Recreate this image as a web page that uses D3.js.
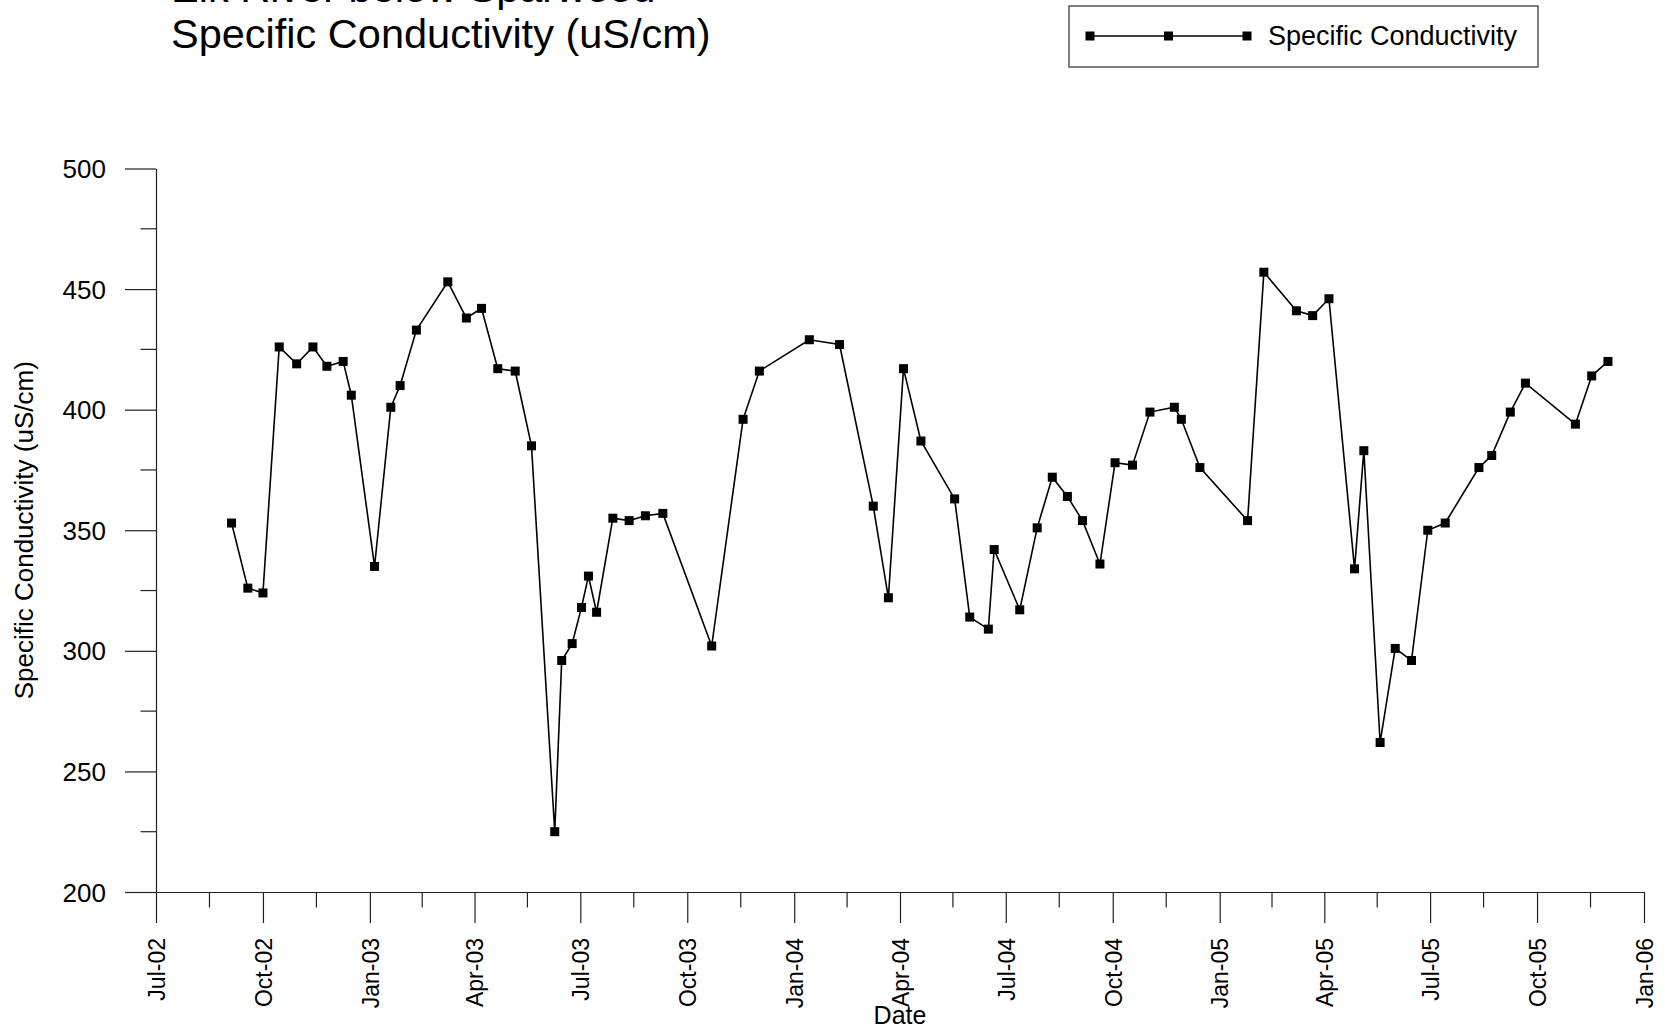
<!DOCTYPE html>
<html>
<head>
<meta charset="utf-8">
<script src="https://cdn.jsdelivr.net/npm/d3@7"></script>
<style>
  html, body { margin: 0; padding: 0; background: #fff; }
  svg { display: block; font-family: "Liberation Sans", Arial, Helvetica, sans-serif; }
</style>
</head>
<body>
<svg id="chart" width="1665" height="1030"></svg>
<script>
// ---- data ----
const sampleDates = ["2002-09-04","2002-09-18","2002-10-01","2002-10-15","2002-10-30","2002-11-13","2002-11-25","2002-12-09","2002-12-16","2003-01-05",
  "2003-01-19","2003-01-27","2003-02-10","2003-03-09","2003-03-25","2003-04-07","2003-04-21","2003-05-06","2003-05-20","2003-06-09",
  "2003-06-15","2003-06-24","2003-07-02","2003-07-08","2003-07-15","2003-07-29","2003-08-12","2003-08-26","2003-09-10","2003-10-22",
  "2003-11-18","2003-12-02","2004-01-14","2004-02-09","2004-03-09","2004-03-22","2004-04-04","2004-04-19","2004-05-18","2004-05-31",
  "2004-06-16","2004-06-21","2004-07-13","2004-07-28","2004-08-10","2004-08-23","2004-09-05","2004-09-20","2004-10-03","2004-10-18",
  "2004-11-02","2004-11-23","2004-11-29","2004-12-15","2005-01-25","2005-02-08","2005-03-08","2005-03-22","2005-04-05","2005-04-27",
  "2005-05-05","2005-05-19","2005-06-01","2005-06-15","2005-06-29","2005-07-14","2005-08-12","2005-08-23","2005-09-08","2005-09-21",
  "2005-11-03","2005-11-17","2005-12-01"];
const conductivity = [353,326,324,426,419,426,418,420,406,335,
  401,410,433,453,438,442,417,416,385,225,
  296,303,318,331,316,355,354,356,357,302,
  396,416,429,427,360,322,417,387,363,314,
  309,342,317,351,372,364,354,336,378,377,
  399,401,396,376,354,457,441,439,446,334,
  383,262,301,296,350,353,376,381,399,411,
  394,414,420];
const xTickDates = ["2002-07-01","2002-10-01","2003-01-01","2003-04-01","2003-07-01","2003-10-01","2004-01-01","2004-04-01",
  "2004-07-01","2004-10-01","2005-01-01","2005-04-01","2005-07-01","2005-10-01","2006-01-01"];
const xTickLabels = ["Jul-02","Oct-02","Jan-03","Apr-03","Jul-03","Oct-03","Jan-04","Apr-04",
  "Jul-04","Oct-04","Jan-05","Apr-05","Jul-05","Oct-05","Jan-06"];
const yTicks = [200,250,300,350,400,450,500];
const yMinorTicks = [225,275,325,375,425,475];
const titleLines = ["Elk River below Sparwood","Specific Conductivity (uS/cm)"];
const seriesName = "Specific Conductivity";
const yTitle = "Specific Conductivity (uS/cm)";
const xTitle = "Date";

// ---- layout ----
const parse = d3.utcParse("%Y-%m-%d");
const data = sampleDates.map((d, i) => ({ date: parse(d), value: conductivity[i] }));
const tickDates = xTickDates.map(parse);

const svg = d3.select("#chart");
const mLeft = 156, mRight = 1644, mTop = 168.5, mBottom = 892;

const x = d3.scaleUtc().domain([tickDates[0], tickDates[tickDates.length - 1]]).range([mLeft, mRight]);
const y = d3.scaleLinear().domain([200, 500]).range([mBottom, mTop]);

const axisColor = "#222";

// Title
const title = svg.append("g").attr("font-size", 41.5).attr("fill", "#000");
titleLines.forEach((t, i) => {
  title.append("text").attr("x", 171).attr("y", 2 + i * 45.5).text(t);
});

// Y axis
const yAxis = svg.append("g").attr("transform", `translate(${mLeft},0)`)
  .call(d3.axisLeft(y).tickValues(yTicks).tickSize(31).tickSizeOuter(0).tickPadding(19));
yAxis.select(".domain").attr("stroke", axisColor).attr("stroke-width", 1.2);
yAxis.selectAll(".tick line").attr("stroke", axisColor).attr("stroke-width", 1.2);
yAxis.selectAll(".tick text").attr("font-size", 26).attr("fill", "#000")
  .attr("font-family", "'Liberation Sans', Arial, sans-serif").attr("dy", "0.35em");
yAxis.selectAll(".minor").data(yMinorTicks).enter().append("line")
  .attr("class", "minor").attr("x1", -15.5).attr("x2", 0)
  .attr("y1", d => y(d)).attr("y2", d => y(d))
  .attr("stroke", axisColor).attr("stroke-width", 1.2);

// X axis
const xAxis = svg.append("g").attr("transform", `translate(0,${mBottom})`)
  .call(d3.axisBottom(x).tickValues(tickDates).tickSize(31).tickSizeOuter(0)
    .tickFormat((d, i) => xTickLabels[i]));
xAxis.select(".domain").attr("stroke", axisColor).attr("stroke-width", 1.2);
xAxis.selectAll(".tick line").attr("stroke", axisColor).attr("stroke-width", 1.2);
xAxis.selectAll(".tick text")
  .attr("font-size", 23).attr("fill", "#000")
  .attr("font-family", "'Liberation Sans', Arial, sans-serif")
  .attr("y", 0).attr("x", -46).attr("dy", "0.36em")
  .attr("transform", "rotate(-90)")
  .style("text-anchor", "end");
const minorX = d3.pairs(tickDates).map(([a, b]) => new Date((a.getTime() + b.getTime()) / 2));
xAxis.selectAll(".minor").data(minorX).enter().append("line")
  .attr("class", "minor").attr("y1", 0).attr("y2", 15.5)
  .attr("x1", d => x(d)).attr("x2", d => x(d))
  .attr("stroke", axisColor).attr("stroke-width", 1.2);

// Axis titles
svg.append("text").attr("transform", `translate(33,${(mTop + mBottom) / 2}) rotate(-90)`)
  .attr("text-anchor", "middle").attr("font-size", 26).text(yTitle);
svg.append("text").attr("x", (mLeft + mRight) / 2).attr("y", 1024)
  .attr("text-anchor", "middle").attr("font-size", 25).text(xTitle);

// Series
const line = d3.line().x(d => x(d.date)).y(d => y(d.value));
svg.append("path").datum(data).attr("d", line)
  .attr("fill", "none").attr("stroke", "#000").attr("stroke-width", 1.6);
const ms = 9;
svg.append("g").selectAll("rect").data(data).enter().append("rect")
  .attr("x", d => x(d.date) - ms / 2).attr("y", d => y(d.value) - ms / 2)
  .attr("width", ms).attr("height", ms).attr("fill", "#000");

// Legend
const lg = svg.append("g");
lg.append("rect").attr("x", 1069).attr("y", 6).attr("width", 469).attr("height", 61)
  .attr("fill", "#fff").attr("stroke", "#555").attr("stroke-width", 1.5);
lg.append("line").attr("x1", 1090).attr("x2", 1247).attr("y1", 36).attr("y2", 36)
  .attr("stroke", "#000").attr("stroke-width", 1.6);
[1090, 1168.5, 1247].forEach(cx => {
  lg.append("rect").attr("x", cx - ms / 2).attr("y", 36 - ms / 2).attr("width", ms).attr("height", ms).attr("fill", "#000");
});
lg.append("text").attr("x", 1268).attr("y", 45).attr("font-size", 27).text(seriesName);
</script>
</body>
</html>
